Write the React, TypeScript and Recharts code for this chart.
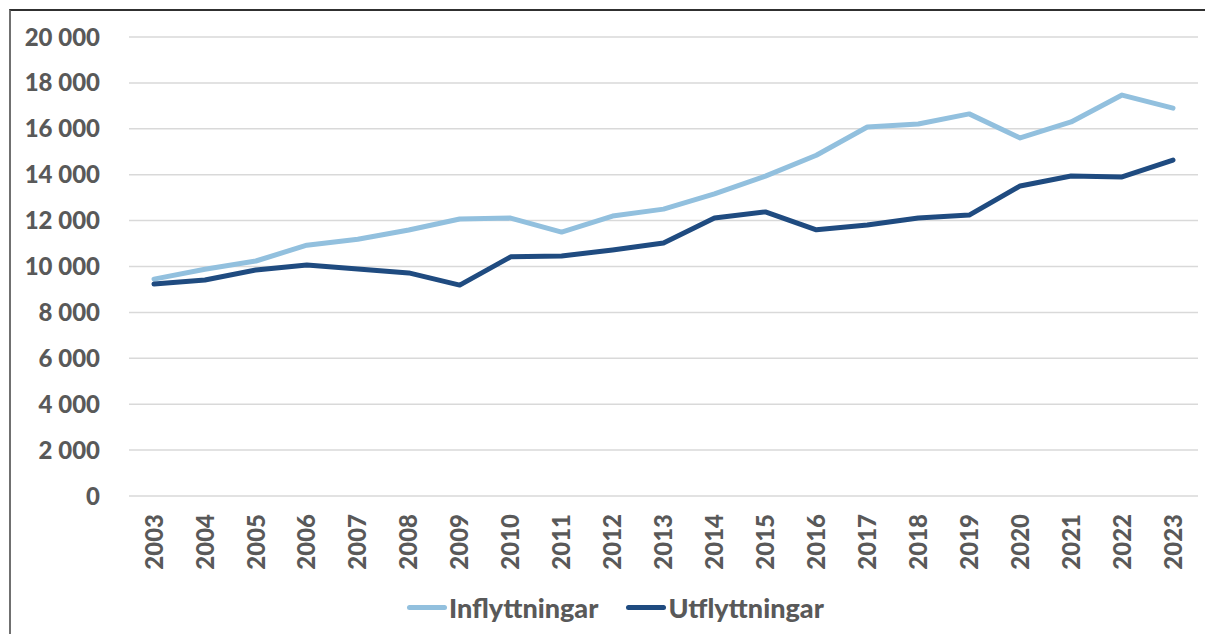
import { LineChart, Line, XAxis, YAxis, CartesianGrid } from 'recharts';

const years = ['2003', '2004', '2005', '2006', '2007', '2008', '2009', '2010', '2011', '2012', '2013', '2014', '2015', '2016', '2017', '2018', '2019', '2020', '2021', '2022', '2023'];
const inflyttningar = [9450, 9880, 10240, 10930, 11190, 11590, 12070, 12110, 11500, 12200, 12500, 13160, 13940, 14850, 16080, 16210, 16650, 15600, 16300, 17470, 16900];
const utflyttningar = [9240, 9410, 9850, 10070, 9890, 9720, 9190, 10420, 10460, 10720, 11020, 12110, 12380, 11600, 11810, 12110, 12240, 13510, 13940, 13900, 14640];
const yTicks = [0, 2000, 4000, 6000, 8000, 10000, 12000, 14000, 16000, 18000, 20000];

const data = years.map((year, i) => ({ year, inflyttningar: inflyttningar[i], utflyttningar: utflyttningar[i] }));

const FONT = 'Lato, "Open Sans", sans-serif';
const WEIGHT = 900;
const TEXT = '#595959';
const LIGHT = '#92C0DE';
const DARK = '#1F4B80';

const series = [
  { key: 'inflyttningar', label: 'Inflyttningar', color: LIGHT },
  { key: 'utflyttningar', label: 'Utflyttningar', color: DARK },
];

const fmt = (v: number) => String(v).replace(/\B(?=(\d{3})+(?!\d))/g, ' ');

function YearTick({ x, y, payload }: any) {
  return (
    <text x={x} y={y} transform={`rotate(-90, ${x}, ${y})`} textAnchor="end" dy="0.36em" fill={TEXT} fontSize={24} fontWeight={WEIGHT} fontFamily={FONT}>
      {payload.value}
    </text>
  );
}

export default function App() {
  return (
    <div style={{ position: 'absolute', left: 0, top: 0, width: 1205, height: 634, background: '#fff' }}>
      <div style={{ position: 'absolute', left: 9, top: 9, width: 1196, height: 625, borderLeft: '2px solid #707070', borderTop: '2px solid #303030', boxSizing: 'border-box' }} />
      <LineChart width={1205} height={634} data={data} margin={{ top: 37, right: 7, bottom: 58, left: 0 }}>
        <CartesianGrid vertical={false} stroke="#D9D9D9" strokeWidth={1.5} />
        <XAxis dataKey="year" tick={<YearTick />} tickLine={false} axisLine={false} interval={0} padding={{ left: 25, right: 25 }} height={80} tickMargin={12} />
        <YAxis width={129} domain={[0, 20000]} ticks={yTicks} tickFormatter={fmt} tickLine={false} axisLine={false} tickMargin={23} tick={{ fill: TEXT, fontSize: 24, fontWeight: WEIGHT, fontFamily: FONT }} />
        {series.map((s) => (
          <Line key={s.key} dataKey={s.key} name={s.label} stroke={s.color} strokeWidth={5} dot={false} isAnimationActive={false} strokeLinejoin="round" strokeLinecap="round" />
        ))}
      </LineChart>
      <div style={{ position: 'absolute', left: 407, top: 591, display: 'flex', alignItems: 'center', fontFamily: FONT, fontSize: 27, fontWeight: WEIGHT, color: TEXT }}>
        {series.map((s) => (
          <div key={s.key} style={{ display: 'flex', alignItems: 'center', marginRight: 28 }}>
            <div style={{ width: 40, height: 5, background: s.color, borderRadius: 3, marginRight: 2 }} />
            <span>{s.label}</span>
          </div>
        ))}
      </div>
    </div>
  );
}
